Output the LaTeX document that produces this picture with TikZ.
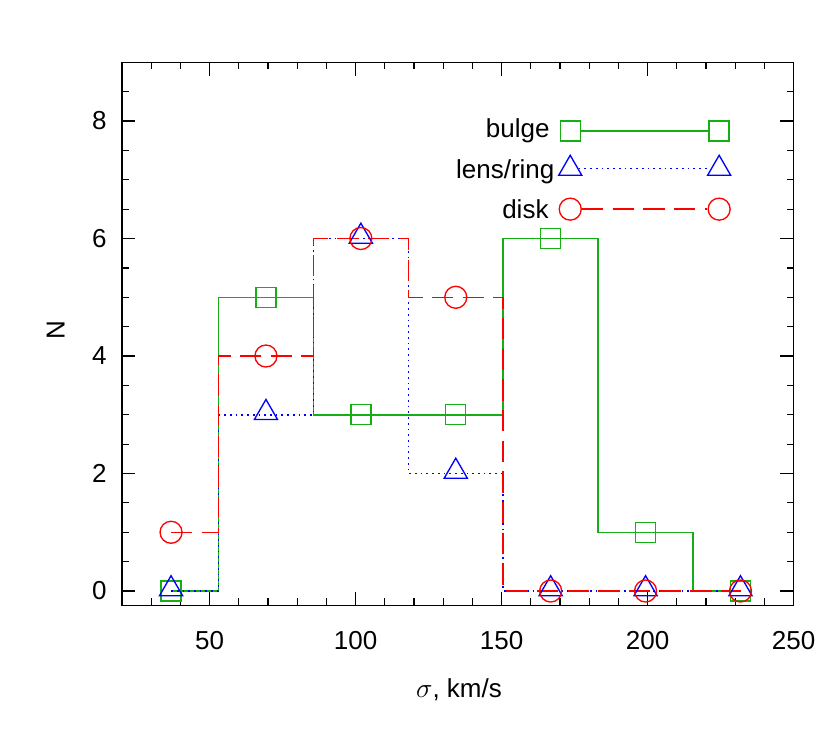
\documentclass[tikz,border=0pt]{standalone}
\usepackage{fontspec}
\setmainfont{Liberation Sans}
\usetikzlibrary{shapes.geometric}
\definecolor{cg}{RGB}{20,175,20}
\definecolor{cb}{RGB}{0,0,255}
\definecolor{cr}{RGB}{255,0,0}
\tikzset{
  sq/.style={draw=cg,line width=1pt,rectangle,minimum size=15pt,inner sep=0pt},
  tri/.style={draw=cb,line width=1pt,regular polygon,regular polygon sides=3,minimum size=20pt,inner sep=0pt},
  cir/.style={draw=cr,line width=1pt,circle,minimum size=16.5pt,inner sep=0pt},
  gline/.style={draw=cg,line width=1.1pt},
  bline/.style={draw=cb,line width=1.1pt,dash pattern=on 1.3pt off 3pt},
  rline/.style={draw=cr,line width=1.1pt,dash pattern=on 16pt off 7pt},
  lab/.style={font=\fontsize{19.5}{22}\selectfont},
}
\begin{document}
\begin{tikzpicture}[x=0.75pt,y=-0.75pt]
\useasboundingbox (0,0) rectangle (830,736);
\begin{scope}[shift={(122-20*2.92,591)},x=2.19pt,y=44.06pt]
\draw[line width=0.9pt] (20,-0.24) rectangle (250,9);
\foreach \v in {20,30,...,250}{
  \draw[line width=0.9pt] (\v,-0.24) -- ++(0,5pt);
  \draw[line width=0.9pt] (\v,9) -- ++(0,-5pt);}
\foreach \v in {50,100,...,250}{
  \draw[line width=0.9pt] (\v,-0.24) -- ++(0,10pt);
  \draw[line width=0.9pt] (\v,9) -- ++(0,-10pt);
  \node[lab,anchor=north] (xt\v) at (\v,-0.24) [yshift=-16pt] {\v};}
\foreach \v in {0,0.5,...,9}{
  \draw[line width=0.9pt] (20,\v) -- ++(5pt,0);
  \draw[line width=0.9pt] (250,\v) -- ++(-5pt,0);}
\foreach \v in {0,2,...,8}{
  \draw[line width=0.9pt] (20,\v) -- ++(10pt,0);
  \draw[line width=0.9pt] (250,\v) -- ++(-10pt,0);
  \node[lab,anchor=east] (yt\v) at (20,\v) [xshift=-8pt] {\v};}
\node[lab] (xl) at (135.4,-1.68) {$\sigma$, km/s};
\node[lab,rotate=90] (yl) at (-2.7,4.44) {N};
\draw[gline] (36.8,0) -- (53.05,0) -- (53.05,5) -- (85.55,5) -- (85.55,3) -- (150.55,3) -- (150.55,6) -- (183.05,6) -- (183.05,1) -- (215.55,1) -- (215.55,0) -- (232,0);
\draw[bline] (36.8,0) -- (53.05,0) -- (53.05,3) -- (85.55,3) -- (85.55,6) -- (118.05,6) -- (118.05,2) -- (150.55,2) -- (150.55,0) -- (232,0);
\draw[rline] (36.8,1) -- (53.05,1) -- (53.05,4) -- (85.55,4) -- (85.55,6) -- (118.05,6) -- (118.05,5) -- (150.55,5) -- (150.55,0) -- (232,0);
\foreach \i/\x/\g/\b/\r in {1/36.8/0/0/1,2/69.3/5/3/4,3/101.8/3/6/6,4/134.3/3/2/5,5/166.8/6/0/0,6/199.3/1/0/0,7/231.8/0/0/0}{
  \node[sq] (g\i) at (\x,\g) {};
  \node[tri,yshift=1.5pt] (b\i) at (\x,\b) {};
  \node[cir] (r\i) at (\x,\r) {};}
\node[sq] (lg1) at (173.5,7.83) {};
\node[sq] (lg2) at (224.5,7.83) {};
\draw[gline] (lg1) -- (lg2);
\node[lab,anchor=east] (lgt) at (lg1.west) [xshift=-4pt] {bulge};
\node[tri] (lb1) at (173.5,7.19) {};
\node[tri] (lb2) at (224.5,7.19) {};
\draw[bline] (lb1) -- (lb2);
\node[lab,anchor=east] (lbt) at (lb1.west) [xshift=-2pt,yshift=-2pt] {lens/ring};
\node[cir] (lr1) at (173.5,6.5) {};
\node[cir] (lr2) at (224.5,6.5) {};
\draw[rline] (lr1) -- (lr2);
\node[lab,anchor=east] (lrt) at (lr1.west) [xshift=-4pt] {disk};
\end{scope}
\end{tikzpicture}
\end{document}
